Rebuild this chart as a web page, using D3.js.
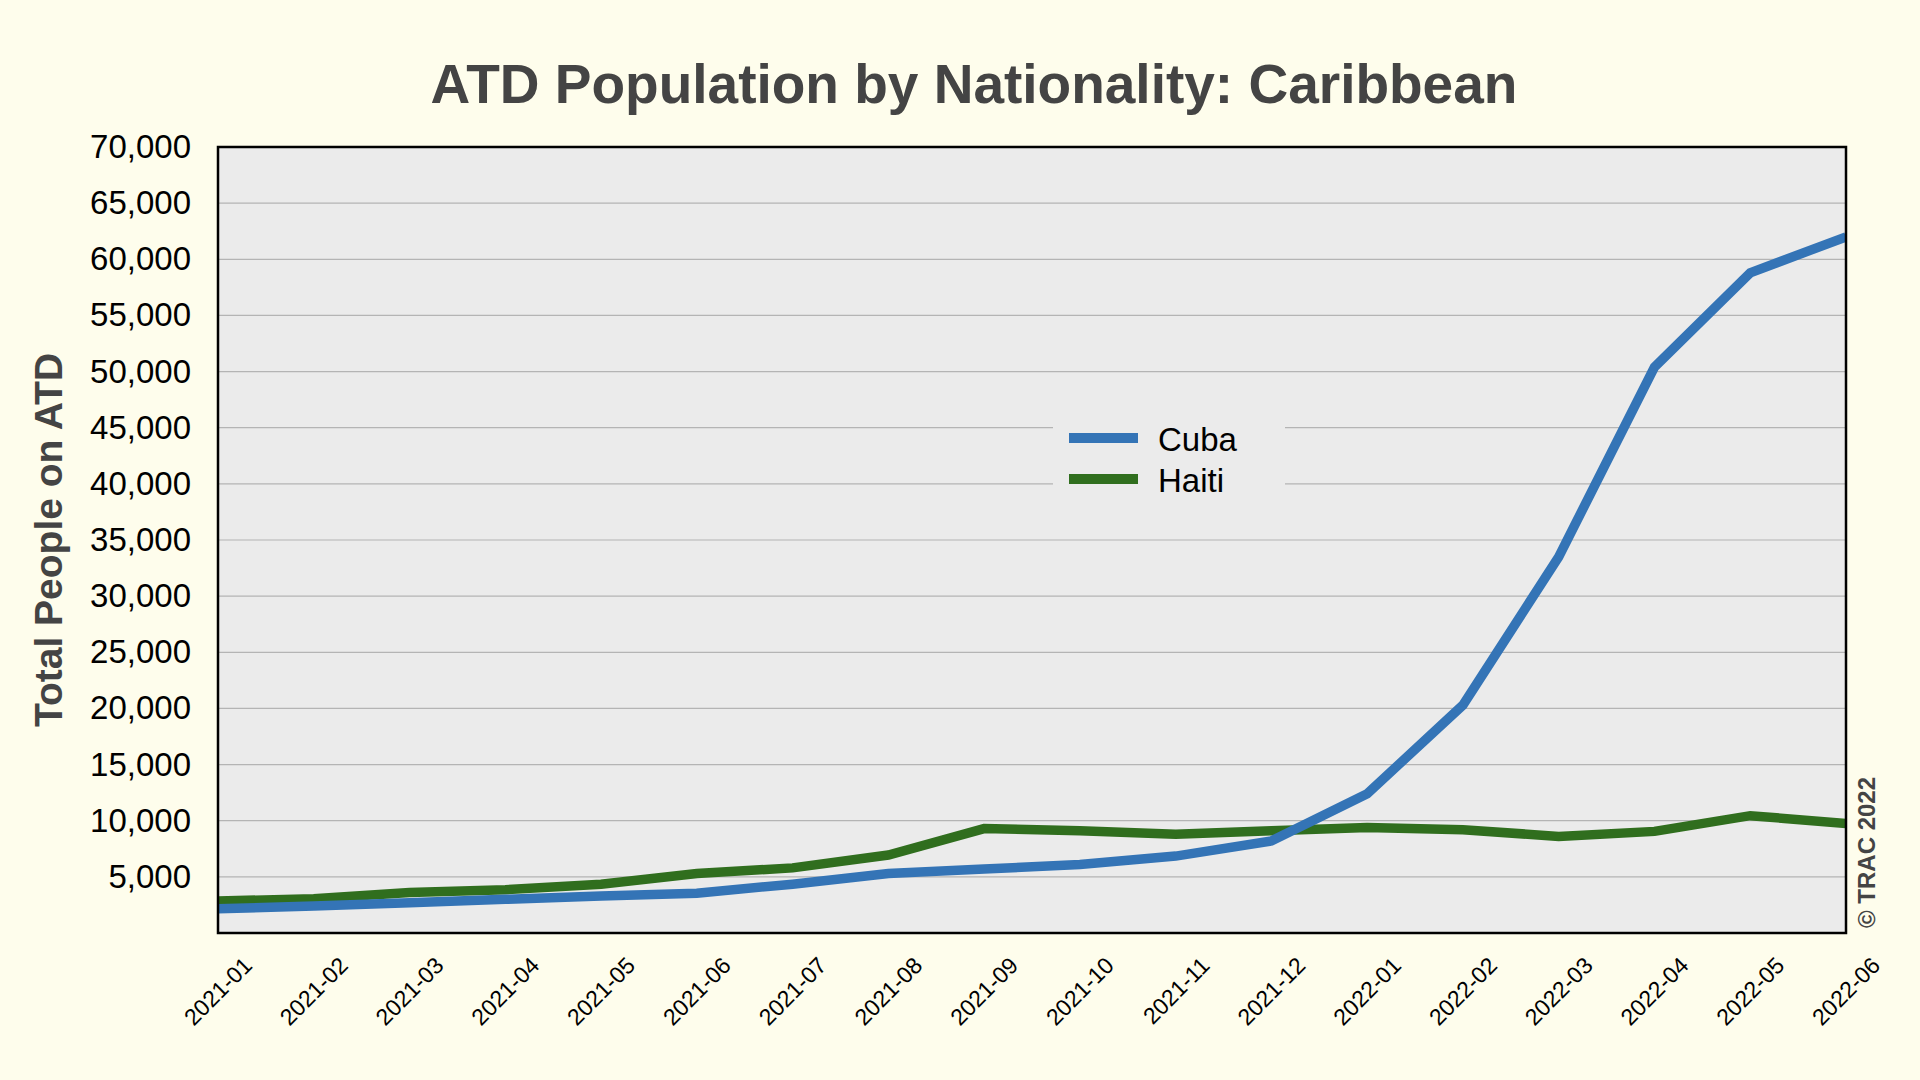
<!DOCTYPE html>
<html>
<head>
<meta charset="utf-8">
<script src="https://cdn.jsdelivr.net/npm/d3@7"></script>
<style>
  html, body { margin: 0; padding: 0; background: #fefdec; }
  svg { display: block; }
  text { font-family: Arial, "Liberation Sans", Helvetica, sans-serif; }
</style>
</head>
<body>
<svg id="chart" width="1920" height="1080"></svg>
<script>
const months = ["2021-01","2021-02","2021-03","2021-04","2021-05","2021-06","2021-07","2021-08","2021-09","2021-10","2021-11","2021-12","2022-01","2022-02","2022-03","2022-04","2022-05","2022-06"];
const cuba  = [2150, 2400, 2700, 3000, 3300, 3550, 4350, 5300, 5700, 6100, 6850, 8200, 12400, 20300, 33500, 50400, 58800, 62000];
const haiti = [2850, 3050, 3600, 3850, 4350, 5300, 5800, 6950, 9300, 9100, 8800, 9100, 9400, 9200, 8600, 9050, 10450, 9750];
const yTicks = [5000,10000,15000,20000,25000,30000,35000,40000,45000,50000,55000,60000,65000,70000];
const seriesNames = ["Cuba", "Haiti"];
const seriesColors = ["#3474b6", "#306e1e"];

const svg = d3.select("#chart");
const L = 218, R = 1846, T = 147, B = 933;

const x = d3.scalePoint().domain(months).range([L, R]).padding(0);
const y = d3.scaleLinear().domain([0, 70000]).range([B, T]);

svg.append("rect").attr("width", 1920).attr("height", 1080).attr("fill", "#fefdec");

// plot background
svg.append("rect").attr("x", L).attr("y", T).attr("width", R - L).attr("height", B - T).attr("fill", "#ebebeb");

// gridlines
svg.append("g").selectAll("line").data(yTicks.filter(d => d < 70000)).join("line")
  .attr("x1", L).attr("x2", R)
  .attr("y1", d => y(d)).attr("y2", d => y(d))
  .attr("stroke", "#b4b4b4").attr("stroke-width", 1.2);

// legend background (hides gridlines)
svg.append("rect").attr("x", 1053).attr("y", 408).attr("width", 232).attr("height", 100).attr("fill", "#ebebeb");

// clip
svg.append("clipPath").attr("id", "clip").append("rect")
  .attr("x", L).attr("y", T).attr("width", R - L).attr("height", B - T);

const line = d3.line().x((d, i) => x(months[i])).y(d => y(d));
const gLines = svg.append("g").attr("clip-path", "url(#clip)");
gLines.append("path").datum(haiti).attr("d", line).attr("fill", "none")
  .attr("stroke", seriesColors[1]).attr("stroke-width", 9.5).attr("stroke-linejoin", "miter");
gLines.append("path").datum(cuba).attr("d", line).attr("fill", "none")
  .attr("stroke", seriesColors[0]).attr("stroke-width", 9.5).attr("stroke-linejoin", "miter");

// frame
svg.append("rect").attr("x", L).attr("y", T).attr("width", R - L).attr("height", B - T)
  .attr("fill", "none").attr("stroke", "#000").attr("stroke-width", 2.5);

// y axis labels
const yAxis = d3.axisLeft(y).tickValues(yTicks).tickSize(0).tickPadding(27).tickFormat(d3.format(","));
const gy = svg.append("g").attr("transform", `translate(${L},0)`).call(yAxis);
gy.select(".domain").remove();
gy.selectAll("text").attr("font-size", 33).attr("fill", "#000")
  .attr("font-family", "Arial, 'Liberation Sans', Helvetica, sans-serif");

// x axis labels
const xAxis = d3.axisBottom(x).tickSize(0).tickPadding(0);
const gx = svg.append("g").attr("transform", `translate(0,${B})`).call(xAxis);
gx.select(".domain").remove();
gx.selectAll("text")
  .attr("font-size", 23).attr("fill", "#000")
  .attr("font-family", "Arial, 'Liberation Sans', Helvetica, sans-serif")
  .attr("text-anchor", "end").attr("dy", null).attr("y", null)
  .attr("transform", "translate(35,34) rotate(-45)");

// title
svg.append("text").attr("x", 974).attr("y", 103).attr("text-anchor", "middle")
  .attr("font-size", 55).attr("font-weight", "bold").attr("fill", "#444")
  .text("ATD Population by Nationality: Caribbean");

// y title
svg.append("text").attr("transform", "translate(62,540) rotate(-90)").attr("text-anchor", "middle")
  .attr("font-size", 39).attr("font-weight", "bold").attr("fill", "#444")
  .text("Total People on ATD");

// copyright
svg.append("text").attr("transform", "translate(1875,928) rotate(-90)").attr("text-anchor", "start")
  .attr("font-size", 24).attr("font-weight", "bold").attr("fill", "#444")
  .text("© TRAC 2022");

// legend
const leg = svg.append("g");
seriesNames.forEach((name, i) => {
  const yy = 438 + i * 41;
  leg.append("line").attr("x1", 1069).attr("x2", 1138).attr("y1", yy).attr("y2", yy)
    .attr("stroke", seriesColors[i]).attr("stroke-width", 10);
  leg.append("text").attr("x", 1158).attr("y", yy + 13).attr("font-size", 33).attr("fill", "#000").text(name);
});
</script>
</body>
</html>
